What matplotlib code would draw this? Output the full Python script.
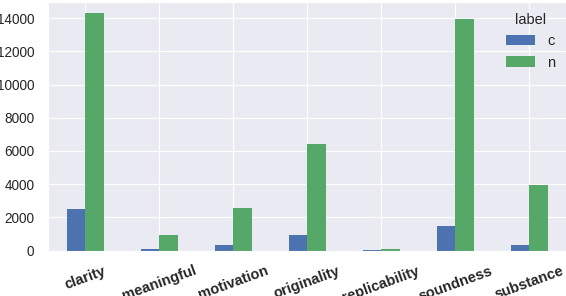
import matplotlib
matplotlib.use("Agg")
import matplotlib.pyplot as plt
import pandas as pd
import seaborn as sns

# counts per aspect
aspects = ["clarity", "meaningful", "motivation", "originality",
           "replicability", "soundness", "substance"]
c_counts = [2500, 90, 330, 940, 45, 1480, 330]
n_counts = [14320, 940, 2560, 6430, 95, 13960, 3960]

sns.set_style("darkgrid")
plt.rcParams["font.family"] = ["Liberation Sans", "DejaVu Sans"]
plt.rcParams["font.size"] = 10.5

df = pd.DataFrame({"c": c_counts, "n": n_counts}, index=aspects)
df.columns.name = "label"

fig = plt.figure(figsize=(5.66, 2.96), dpi=100)
ax = fig.add_axes([48.3 / 566, 45.5 / 296, 1 - 48.3 / 566, 248.5 / 296])
df.plot.bar(ax=ax, color=["#4C72B0", "#55A868"], width=0.5, rot=20,
            edgecolor="none", linewidth=0)

ax.set_ylim(0, 14980)
ax.set_yticks(range(0, 14001, 2000))
ax.tick_params(axis="y", labelsize=9.8, pad=6.5, colors="#262626")
ax.tick_params(axis="x", labelsize=10.5, pad=6, colors="#262626")
for lbl in ax.get_xticklabels():
    lbl.set_fontweight("bold")
ax.set_xlabel("")

leg = ax.legend(title="label", loc="upper right", frameon=False,
                fontsize=10.5, title_fontsize=10.5, borderaxespad=0.35)

fig.savefig("out.png", dpi=100)
